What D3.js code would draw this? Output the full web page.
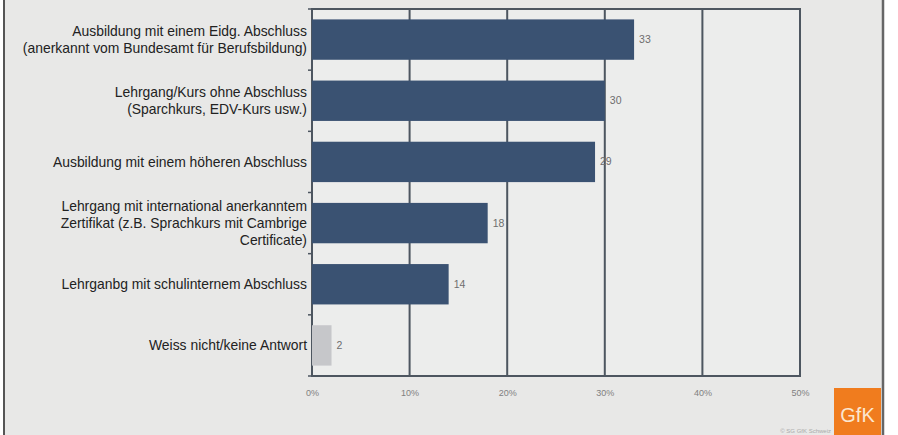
<!DOCTYPE html>
<html><head><meta charset="utf-8">
<script src="https://cdn.jsdelivr.net/npm/d3@7"></script>
<style>body{margin:0;background:#fff}svg{display:block}</style>
</head><body><svg id="c" width="898" height="435"></svg>
<script>
const categories = [
  ["Ausbildung mit einem Eidg. Abschluss","(anerkannt vom Bundesamt für Berufsbildung)"],
  ["Lehrgang/Kurs ohne Abschluss","(Sparchkurs, EDV-Kurs usw.)"],
  ["Ausbildung mit einem höheren Abschluss"],
  ["Lehrgang mit international anerkanntem","Zertifikat (z.B. Sprachkurs mit Cambrige","Certificate)"],
  ["Lehrganbg mit schulinternem Abschluss"],
  ["Weiss nicht/keine Antwort"]
];
const values = [33, 30, 29, 18, 14, 2];
const tickValues = [0, 10, 20, 30, 40, 50];
const tickLabels = ["0%", "10%", "20%", "30%", "40%", "50%"];

const svg = d3.select("#c");
svg.append("rect").attr("x",4).attr("y",0).attr("width",878).attr("height",435).attr("fill","#e8e8e7");
svg.append("line").attr("x1",4).attr("x2",4).attr("y1",0).attr("y2",435).attr("stroke","#555").attr("stroke-width",2);
svg.append("line").attr("x1",883).attr("x2",883).attr("y1",0).attr("y2",435).attr("stroke","#666").attr("stroke-width",2.5);

const L = 312, R = 800, T = 9, B = 376;
const x = d3.scaleLinear().domain([0, 50]).range([L, R]);
const y = d3.scaleBand().domain(d3.range(values.length)).range([T, B]).paddingInner(0.34).paddingOuter(0.17);
const band = d3.scaleBand().domain(d3.range(values.length)).range([T, B]);

svg.append("rect").attr("x",L).attr("y",T).attr("width",R-L).attr("height",B-T).attr("fill","#ecedec");

// grid
svg.append("g").selectAll("line").data(tickValues.slice(1)).join("line")
  .attr("x1",d=>x(d)).attr("x2",d=>x(d)).attr("y1",T).attr("y2",B)
  .attr("stroke","#4d5660").attr("stroke-width",2);
svg.append("rect").attr("x",L).attr("y",T).attr("width",R-L).attr("height",B-T)
  .attr("fill","none").attr("stroke","#4d5660").attr("stroke-width",2);

// left ticks at band boundaries
svg.append("g").selectAll("line").data(d3.range(values.length+1)).join("line")
  .attr("x1",L-4).attr("x2",L).attr("y1",i=>T+i*band.step()).attr("y2",i=>T+i*band.step())
  .attr("stroke","#4d5660").attr("stroke-width",1.5);

// bars
svg.append("g").selectAll("rect").data(values).join("rect")
  .attr("x",L).attr("y",(d,i)=>y(i)).attr("width",d=>x(d)-L).attr("height",y.bandwidth())
  .attr("fill",(d,i)=>i===values.length-1?"#c6c7ca":"#3a5272");

// value labels
svg.append("g").selectAll("text").data(values).join("text")
  .attr("x",d=>x(d)+5).attr("y",(d,i)=>y(i)+y.bandwidth()/2+3.5)
  .attr("font-family","Liberation Sans, Arial, sans-serif").attr("font-size",10.5)
  .attr("fill","#6e6e6e").text(d=>d);

// category labels
const lab = svg.append("g");
categories.forEach((lines,i)=>{
  const cy = band(i)+band.bandwidth()/2;
  const lh = 17;
  const t = lab.append("text").attr("text-anchor","end")
    .attr("font-family","Liberation Sans, Arial, sans-serif").attr("font-size",13.9).attr("fill","#222");
  lines.forEach((s,j)=>{
    t.append("tspan").attr("x",307).attr("y",cy + (j-(lines.length-1)/2)*lh + 4.8).text(s);
  });
});

// x axis labels
const ax = d3.axisBottom(x).tickValues(tickValues).tickFormat((d,i)=>tickLabels[i]).tickSize(0).tickPadding(0);
const g = svg.append("g").attr("transform",`translate(0,${B+14})`).call(ax);
g.select(".domain").remove();
g.selectAll("text").attr("font-family","Liberation Sans, Arial, sans-serif").attr("font-size",9).attr("fill","#808080");

// GfK logo
svg.append("rect").attr("x",834).attr("y",388).attr("width",47).attr("height",47).attr("fill","#f07c1e");
svg.append("text").attr("x",857.5).attr("y",422).attr("text-anchor","middle")
  .attr("font-family","Liberation Sans, Arial, sans-serif").attr("font-size",20).attr("fill","#fbe6cf").text("GfK");
svg.append("text").attr("x",831).attr("y",433).attr("text-anchor","end")
  .attr("font-family","Liberation Sans, Arial, sans-serif").attr("font-size",6).attr("fill","#aaa").text("© SG GfK Schweiz");
</script></body></html>
